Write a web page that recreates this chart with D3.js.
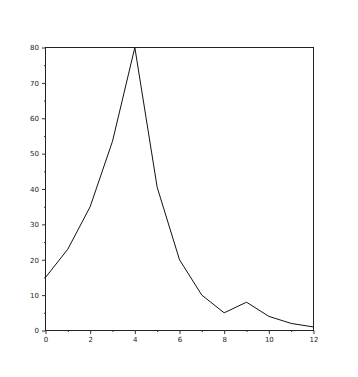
<!DOCTYPE html>
<html>
<head>
<meta charset="utf-8">
<script src="https://cdn.jsdelivr.net/npm/d3@7"></script>
<style>
  body { margin: 0; background: #fff; }
  .tick text { font-family: "DejaVu Sans", sans-serif; font-size: 7px; fill: #222; }
</style>
</head>
<body>
<div id="chart"></div>
<script>
// values
const xValues = [0, 1, 2, 3, 4, 5, 6, 7, 8, 9, 10, 11, 12];
const yValues = [15, 23, 35, 53.5, 80, 40.5, 20, 10, 5, 8, 4, 2, 1];
const xTicks = [0, 2, 4, 6, 8, 10, 12];
const yTicks = [0, 10, 20, 30, 40, 50, 60, 70, 80];

const W = 358, H = 377;
const margin = { top: 47.5, right: 44.5, bottom: 46.5, left: 45.5 };

let svg = d3
    .select("#chart")
    .append("svg")
    .attr("width", W)
    .attr("height", H);

let x = d3.scaleLinear().domain([0, 12]).range([margin.left, W - margin.right]);
let y = d3.scaleLinear().domain([0, 80]).range([H - margin.bottom, margin.top]);

//frame round the plot
svg.append("rect")
    .attr("x", x(0))
    .attr("y", y(80))
    .attr("width", x(12) - x(0))
    .attr("height", y(0) - y(80))
    .attr("fill", "none")
    .attr("stroke", "#222")
    .attr("stroke-width", 1);

//minor ticks
svg.append("g")
    .attr("transform", `translate(0,${y(0)})`)
    .call(d3.axisBottom(x).tickValues(d3.range(1, 12, 2)).tickSize(1.5).tickFormat(""))
    .call(g => g.select(".domain").remove());
svg.append("g")
    .attr("transform", `translate(${x(0)},0)`)
    .call(d3.axisLeft(y).tickValues(d3.range(5, 80, 10)).tickSize(1.5).tickFormat(""))
    .call(g => g.select(".domain").remove());

//major ticks + labels
svg.append("g")
    .attr("transform", `translate(0,${y(0)})`)
    .call(d3.axisBottom(x).tickValues(xTicks).tickSize(3.5).tickPadding(3))
    .call(g => g.select(".domain").remove());
svg.append("g")
    .attr("transform", `translate(${x(0)},0)`)
    .call(d3.axisLeft(y).tickValues(yTicks).tickSize(3.5).tickPadding(3))
    .call(g => g.select(".domain").remove());

svg.selectAll(".tick line").attr("stroke", "#333");

//the data line
let line = d3.line()
    .x((d, i) => x(xValues[i]))
    .y(d => y(d));

svg.append("path")
    .datum(yValues)
    .attr("fill", "none")
    .attr("stroke", "#111")
    .attr("stroke-width", 1)
    .attr("d", line);
</script>
</body>
</html>
